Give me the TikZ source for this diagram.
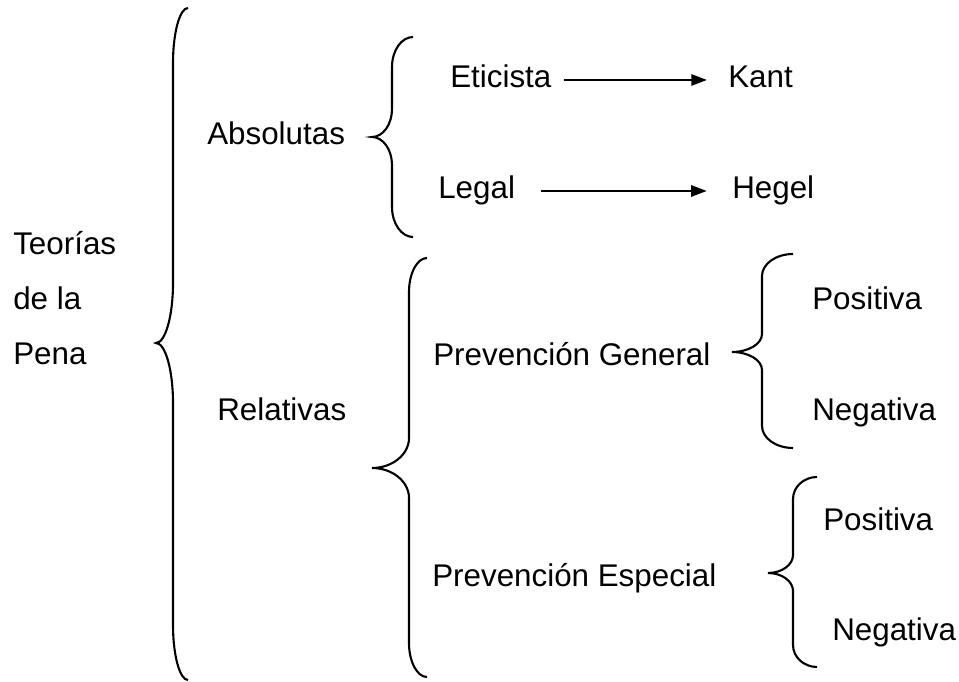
\documentclass[tikz,border=0pt]{standalone}
\usepackage{fontspec}
\setmainfont{Liberation Sans}
\usetikzlibrary{arrows.meta}

% #1 x de la vertical, #2 y arriba, #3 y de la punta, #4 y abajo,
% #5 ancho de los extremos, #6 ancho de la punta,
% #7 curva de los extremos, #8 curva de la punta
\newcommand{\llave}[8]{%
  \draw[llave] ({#1+#5},#2) .. controls ({#1+0.45*#5},#2) and (#1,{#2+0.45*#7}) .. (#1,{#2+#7})
    -- (#1,{#3-#8}) .. controls (#1,{#3-0.45*#8}) and ({#1-0.45*#6},#3) .. ({#1-#6},#3)
    .. controls ({#1-0.45*#6},#3) and (#1,{#3+0.45*#8}) .. (#1,{#3+#8})
    -- (#1,{#4-#7}) .. controls (#1,{#4-0.45*#7}) and ({#1+0.45*#5},#4) .. ({#1+#5},#4);}

\begin{document}
\begin{tikzpicture}[x=0.025cm,y=-0.025cm]
    \tikzstyle{texto}=[font=\fontsize{22.3}{26}\selectfont, inner sep=0pt, anchor=base west, text height=16pt, text depth=4.6pt]
    \tikzstyle{flecha}=[-{Triangle[length=11pt,width=8pt]}, line width=1.4pt]
    \tikzstyle{llave}=[line width=1.5pt]

    \useasboundingbox (0,0) rectangle (959,682);

    % Titulo en tres lineas
    \foreach \name/\palabra/\y in {1/Teorías/255, 2/de la/310, 3/Pena/364}
        \node[texto] (T-\name) at (13,\y) {\palabra};

    % Primer nivel
    \node[texto] (absolutas) at (207,145) {Absolutas};
    \node[texto] (relativas) at (217,420) {Relativas};

    % Absolutas
    \node[texto] (eticista) at (450,88) {Eticista};
    \node[texto] (kant) at (728,88) {Kant};
    \node[texto] (legal) at (438,199) {Legal};
    \node[texto] (hegel) at (732,199) {Hegel};

    % Relativas
    \node[texto] (general) at (433,365) {Prevención General};
    \node[texto] (especial) at (432,586) {Prevención Especial};

    \foreach \name/\palabra/\x/\y in {1/Positiva/812/310, 2/Negativa/812/420, 3/Positiva/823/530, 4/Negativa/832/640}
        \node[texto] (R-\name) at (\x,\y) {\palabra};

    % Flechas
    \draw[flecha, shorten <=9pt, shorten >=15pt] (eticista.east) -- (kant.west);
    \draw[flecha, shorten <=18pt, shorten >=18pt] (legal.east) -- (hegel.west);

    % Llaves
    \llave{173}{8}{343}{680}{15}{17}{55}{60}
    \llave{392}{37}{137}{237}{21}{20}{30}{28}
    \llave{409}{258}{468}{677}{18}{37}{34}{30}
    \llave{762}{254}{352}{448}{31}{30}{22}{18}
    \llave{793}{477}{573}{667}{24}{25}{22}{18}
\end{tikzpicture}
\end{document}
